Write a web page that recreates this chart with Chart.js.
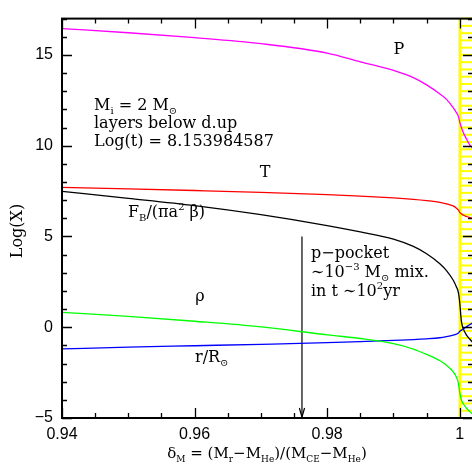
<!DOCTYPE html>
<html>
<head>
<meta charset="utf-8">
<script src="https://cdn.jsdelivr.net/npm/chart.js@4.4.1/dist/chart.umd.min.js"></script>
<style>
  html, body { margin: 0; padding: 0; background: #fff; overflow: hidden; }
  #wrap { width: 472px; height: 468px; overflow: hidden; }
</style>
</head>
<body>
<div id="wrap"><canvas id="c" width="480" height="468"></canvas></div>
<script>
// delta_M sample points (denser near the envelope base)
const deltaM = [0.94, 0.95, 0.96, 0.97, 0.98, 0.985, 0.99, 0.993, 0.995, 0.997, 0.998, 0.999, 0.9995, 0.9998, 1.0, 1.00025, 1.0005, 1.001, 1.0015, 1.002];
const logP   = [16.45, 16.22, 15.95, 15.62, 15.1, 14.62, 14.15, 13.75, 13.35, 12.85, 12.55, 12.1, 11.82, 11.6, 11.3, 11.0, 10.75, 10.38, 10.05, 9.85];
const logT   = [7.7, 7.62, 7.53, 7.43, 7.3, 7.22, 7.12, 7.04, 6.97, 6.88, 6.8, 6.68, 6.56, 6.45, 6.33, 6.25, 6.18, 6.1, 6.04, 6.0];
const logFB  = [7.48, 7.1, 6.7, 6.2, 5.6, 5.25, 4.85, 4.45, 4.05, 3.5, 3.12, 2.6, 2.22, 1.9, 1.35, 0.32, -0.05, -0.42, -0.65, -0.85];
const logRho = [0.82, 0.6, 0.33, 0.02, -0.42, -0.62, -0.9, -1.2, -1.5, -1.85, -2.1, -2.45, -2.75, -3.1, -3.6, -4.0, -4.2, -4.45, -4.65, -4.8];
const logR   = [-1.19, -1.1, -1.02, -0.94, -0.85, -0.79, -0.72, -0.68, -0.64, -0.58, -0.52, -0.44, -0.38, -0.32, -0.23, -0.16, -0.1, 0.02, 0.14, 0.25];

// p-pocket arrow
const arrowX = [0.9762, 0.9762];
const arrowY = [5, -5];

// axes
const xRange = [0.94, 1.002];
const yRange = [-5, 17];
const xMajorTicks = [0.94, 0.96, 0.98, 1.0];
const xTickLabels = ['0.94', '0.96', '0.98', '1'];
const xMinorStep = 0.005;
const yMajorTicks = [-5, 0, 5, 10, 15];
const yTickLabels = ['\u22125', '0', '5', '10', '15'];
const yMinorStep = 1;

// yellow striped zone past the envelope base
const shadeX = [1.0, 1.002];
const shadeStep = 0.4;

const SERIF = '"DejaVu Serif", serif';
const SANS = '"Liberation Sans", Arial, sans-serif';

function pts(ys) { return deltaM.map((x, i) => ({ x: x, y: ys[i] })); }

function drawRich(ctx, x, y, parts, size, align) {
  const small = Math.round(size * 0.62);
  const widths = parts.map(([t, m]) => {
    ctx.font = (m === 'n' ? size : small) + 'px ' + SERIF;
    return ctx.measureText(t).width;
  });
  const total = widths.reduce((a, b) => a + b, 0);
  let cx = align === 'center' ? x - total / 2 : x;
  ctx.textAlign = 'left';
  ctx.textBaseline = 'alphabetic';
  parts.forEach(([t, m], i) => {
    ctx.font = (m === 'n' ? size : small) + 'px ' + SERIF;
    const dy = m === 'sub' ? size * 0.28 : (m === 'sup' ? -size * 0.42 : 0);
    ctx.fillText(t, cx, y + dy);
    cx += widths[i];
  });
}

const decor = {
  id: 'decor',
  beforeDatasetsDraw(chart) {
    const ctx = chart.ctx, xs = chart.scales.x, ys = chart.scales.y;
    const { top, bottom } = chart.chartArea;
    const x0 = xs.getPixelForValue(shadeX[0]), x1 = xs.getPixelForValue(shadeX[1]);
    ctx.save();
    ctx.strokeStyle = '#ffff00';
    ctx.lineWidth = 2;
    for (let v = yRange[0]; v <= yRange[1] + 1e-9; v += shadeStep) {
      const py = ys.getPixelForValue(v);
      ctx.beginPath(); ctx.moveTo(x0, py); ctx.lineTo(x1, py); ctx.stroke();
    }
    ctx.lineWidth = 2.5;
    ctx.beginPath(); ctx.moveTo(x0, top); ctx.lineTo(x0, bottom); ctx.stroke();
    ctx.restore();
  },
  afterDraw(chart) {
    const ctx = chart.ctx, xs = chart.scales.x, ys = chart.scales.y;
    const { left, right, top, bottom } = chart.chartArea;
    ctx.save();
    ctx.strokeStyle = '#000';
    // ticks
    ctx.lineWidth = 1.3;
    const nx = Math.round((xRange[1] - xRange[0]) / xMinorStep);
    for (let i = 0; i <= nx; i++) {
      const v = xRange[0] + i * xMinorStep;
      if (v > xRange[1]) break;
      const major = xMajorTicks.some(m => Math.abs(m - v) < 1e-6);
      const len = major ? 10 : 5;
      const px = Math.round(xs.getPixelForValue(v)) + 0.5;
      ctx.beginPath();
      ctx.moveTo(px, bottom); ctx.lineTo(px, bottom - len);
      ctx.moveTo(px, top); ctx.lineTo(px, top + len);
      ctx.stroke();
    }
    for (let v = yRange[0]; v <= yRange[1]; v += yMinorStep) {
      const major = yMajorTicks.includes(v);
      const len = major ? 10 : 5;
      const py = Math.round(ys.getPixelForValue(v)) + 0.5;
      ctx.beginPath();
      ctx.moveTo(left, py); ctx.lineTo(left + len, py);
      ctx.moveTo(right, py); ctx.lineTo(right - len, py);
      ctx.stroke();
    }
    // frame
    ctx.lineWidth = 2;
    ctx.strokeRect(left, top, right - left, bottom - top);

    // arrow head
    const ax = xs.getPixelForValue(arrowX[1]), ay = ys.getPixelForValue(arrowY[1]);
    ctx.lineWidth = 1.2;
    ctx.beginPath();
    ctx.moveTo(ax - 2.6, ay - 10); ctx.lineTo(ax, ay - 1); ctx.lineTo(ax + 2.6, ay - 10);
    ctx.stroke();

    // annotations
    ctx.fillStyle = '#000';
    const S = 16;
    drawRich(ctx, 94, 110, [['M', 'n'], ['i', 'sub'], [' = 2 M', 'n'], ['\u2299', 'sub']], S);
    drawRich(ctx, 94, 128, [['layers below d.up', 'n']], S);
    drawRich(ctx, 94, 146, [['Log(t) = 8.153984587', 'n']], S);
    drawRich(ctx, 399, 54, [['P', 'n']], S, 'center');
    drawRich(ctx, 265, 177, [['T', 'n']], S, 'center');
    drawRich(ctx, 128, 217, [['F', 'n'], ['B', 'sub'], ['/(\u03c0a', 'n'], ['2', 'sup'], [' \u03b2)', 'n']], S);
    drawRich(ctx, 200, 301, [['\u03c1', 'n']], S, 'center');
    drawRich(ctx, 195, 362, [['r/R', 'n'], ['\u2299', 'sub']], S);
    drawRich(ctx, 311, 258, [['p\u2212pocket', 'n']], S);
    drawRich(ctx, 311, 277, [['\u223c10', 'n'], ['\u22123', 'sup'], [' M', 'n'], ['\u2299', 'sub'], [' mix.', 'n']], S);
    drawRich(ctx, 311, 296, [['in t \u223c10', 'n'], ['2', 'sup'], ['yr', 'n']], S);

    // axis titles
    drawRich(ctx, 267, 458, [['\u03b4', 'n'], ['M', 'sub'], [' = (M', 'n'], ['r', 'sub'], ['\u2212M', 'n'], ['He', 'sub'],
      [')/(M', 'n'], ['CE', 'sub'], ['\u2212M', 'n'], ['He', 'sub'], [')', 'n']], 15, 'center');
    ctx.save();
    ctx.translate(22, 231);
    ctx.rotate(-Math.PI / 2);
    drawRich(ctx, 0, 0, [['Log(X)', 'n']], S, 'center');
    ctx.restore();
    ctx.restore();
  }
};

const line = (data, color) => ({
  data: data, borderColor: color, borderWidth: 1.3, pointRadius: 0,
  fill: false, cubicInterpolationMode: 'monotone'
});

new Chart(document.getElementById('c'), {
  type: 'line',
  data: {
    datasets: [
      line(pts(logP), '#ff00ff'),
      line(pts(logT), '#ff0000'),
      line(pts(logFB), '#000000'),
      line(pts(logRho), '#00ff00'),
      line(pts(logR), '#0000ff'),
      { data: arrowX.map((x, i) => ({ x: x, y: arrowY[i] })), borderColor: '#000', borderWidth: 1.2, pointRadius: 0, fill: false }
    ]
  },
  options: {
    responsive: false,
    animation: false,
    devicePixelRatio: 1,
    layout: { padding: { top: 5, right: 7, left: 0, bottom: 0 } },
    plugins: { legend: { display: false }, tooltip: { enabled: false } },
    scales: {
      x: {
        type: 'linear', min: xRange[0], max: xRange[1],
        grid: { display: false, drawTicks: false }, border: { display: false },
        afterBuildTicks: s => { s.ticks = xMajorTicks.map(v => ({ value: v })); },
        afterFit: s => { s.height = 50; },
        ticks: {
          padding: 7, color: '#000', maxRotation: 0, autoSkip: false,
          font: { family: SANS, size: 16 },
          callback: v => xTickLabels[xMajorTicks.findIndex(m => Math.abs(m - v) < 1e-6)]
        }
      },
      y: {
        type: 'linear', min: yRange[0], max: yRange[1],
        grid: { display: false, drawTicks: false }, border: { display: false },
        afterBuildTicks: s => { s.ticks = yMajorTicks.map(v => ({ value: v })); },
        afterFit: s => { s.width = 62; },
        ticks: {
          padding: 9, color: '#000', autoSkip: false,
          font: { family: SANS, size: 16 },
          callback: v => yTickLabels[yMajorTicks.indexOf(v)]
        }
      }
    }
  },
  plugins: [decor]
});
</script>
</body>
</html>
